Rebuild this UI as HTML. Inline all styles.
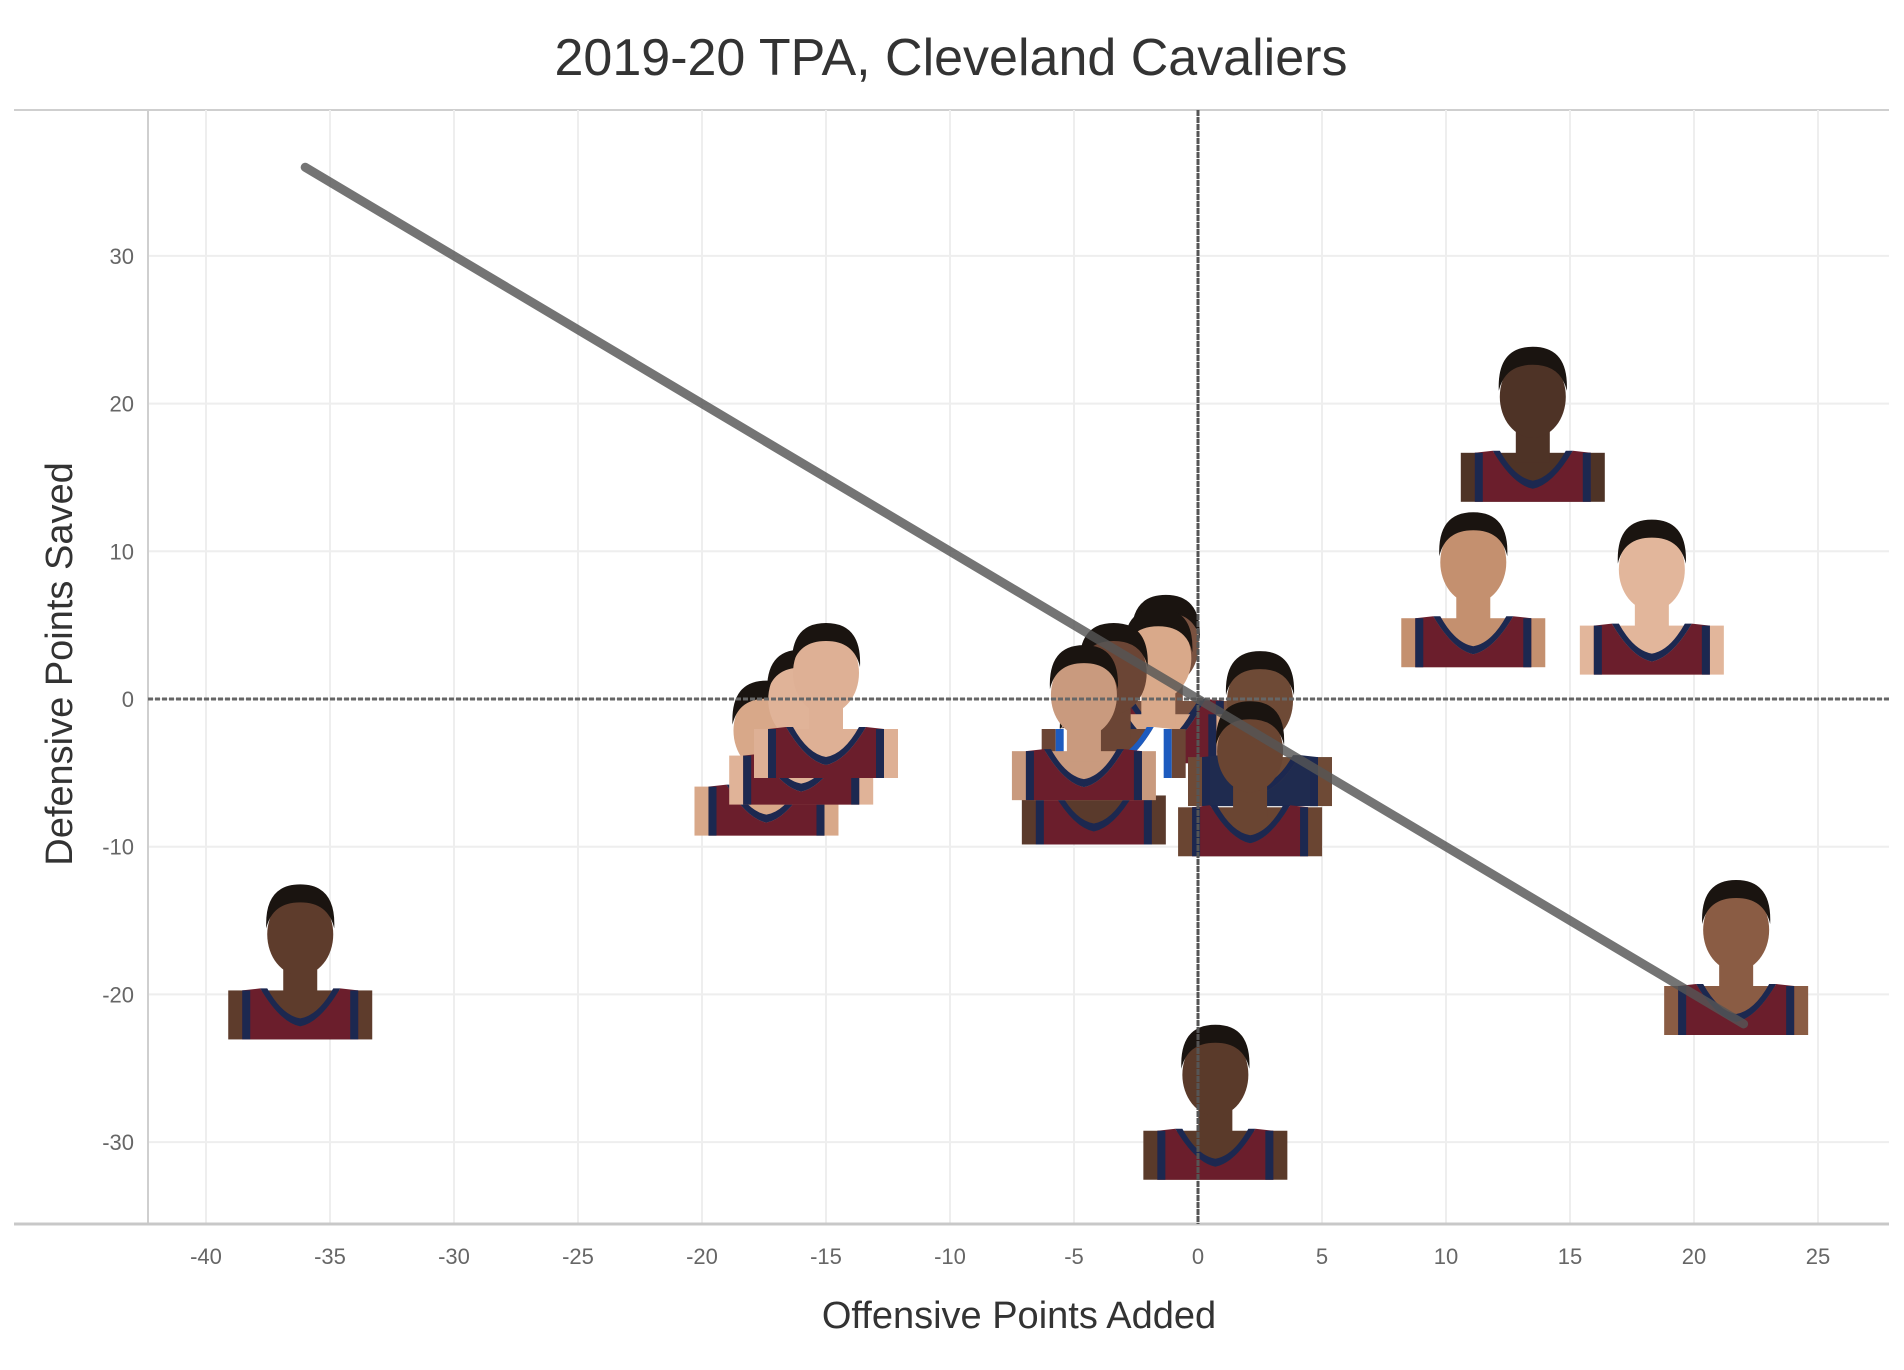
<!DOCTYPE html>
<html><head><meta charset="utf-8"><style>
html,body{margin:0;padding:0;background:#fff;}
svg{display:block;font-family:"Liberation Sans","DejaVu Sans",sans-serif;}
</style></head><body>
<svg id="chart" width="1904" height="1370" viewBox="0 0 1904 1370">
<text x="951" y="75" text-anchor="middle" font-size="52" fill="#333">2019-20 TPA, Cleveland Cavaliers</text>
<g id="grid"></g>
<g id="players"></g>
<g id="zero"></g>
<g id="trend"></g>
<g id="ticks"></g>
<text x="1019" y="1328" text-anchor="middle" font-size="38" fill="#333">Offensive Points Added</text>
<text transform="translate(72,664) rotate(-90)" text-anchor="middle" font-size="38" fill="#333">Defensive Points Saved</text>
</svg>
<script>
const xTicks=[-40,-35,-30,-25,-20,-15,-10,-5,0,5,10,15,20,25];
const yTicks=[30,20,10,0,-10,-20,-30];
const playerNames=["Dante Exum","Matthew Dellavedova","Lower Left Reserve","Ante Zizic","Kevin Porter Jr.","Cedi Osman","Alfonzo McKinnie","Kevin Porter Jr. alt","Denver Guard","Brandon Knight","Darius Garland","Collin Sexton","Jordan Clarkson","Tristan Thompson","Larry Nance Jr.","Kevin Love"];
const offense=[-1.3,-1.6,-17.4,-16,-4.2,-15,-3.4,-4.6,2.5,2.1,-36.2,0.7,21.7,13.5,11.1,18.3];
const defense=[1.9,1.0,-3.9,-1.8,-4.5,0,0,-1.5,-1.9,-5.3,-17.7,-27.2,-17.4,18.7,7.5,7.0];
const trendX=[-36,22];
const trendY=[36,-22];

const NS="http://www.w3.org/2000/svg";
const L=148,R=1889,T=110,B=1224;
const sx=v=>1198+v*24.8;
const sy=v=>699-v*14.77;
function mk(tag,attrs,parent){const e=document.createElementNS(NS,tag);for(const k in attrs)e.setAttribute(k,attrs[k]);parent.appendChild(e);return e;}
const grid=document.getElementById('grid');
let e;
e=mk('line',{x1:14,y1:T,x2:R,y2:T,stroke:'#cfcfcf','stroke-width':2},grid);


xTicks.forEach(t=>{
 e=mk('line',{x1:sx(t),y1:T,x2:sx(t),y2:B,stroke:'#eeeeee','stroke-width':2},grid);
 
 
});
yTicks.forEach(t=>{
 e=mk('line',{x1:L,y1:sy(t),x2:R,y2:sy(t),stroke:'#eeeeee','stroke-width':2},grid);
 
 
});
e=mk('line',{x1:L,y1:T,x2:L,y2:B,stroke:'#cfcfcf','stroke-width':2},grid);


e=mk('line',{x1:14,y1:B,x2:R,y2:B,stroke:'#c8c8c8','stroke-width':3},grid);



const ticks=document.getElementById('ticks');
xTicks.forEach(t=>{
 e=mk('text',{x:sx(t),y:1264,'text-anchor':'middle','font-size':22,fill:'#666'},ticks);
 e.textContent=t;
 
 
});
yTicks.forEach(t=>{
 e=mk('text',{x:134,y:sy(t)+8,'text-anchor':'end','font-size':22,fill:'#666'},ticks);
 e.textContent=t;
 
 
});

const skins=['#7a5240','#d9a98a','#d8a889','#e0b398','#5a3a2c','#deb095','#6b4535','#c99a7e','#6e4a36','#6a4532','#5e3c2c','#5a3a2a','#8a5c44','#4e3326','#c4906f','#e2b69b'];
const jerseys=['#6b1e2c','#6b1e2c','#6b1e2c','#6b1e2c','#6b1e2c','#6b1e2c','#ffffff','#6b1e2c','#1f2b4f','#6b1e2c','#6b1e2c','#6b1e2c','#6b1e2c','#6b1e2c','#6b1e2c','#6b1e2c'];
const players=document.getElementById('players');
offense.forEach((v,i)=>{
 const g=mk('g',{transform:`translate(${sx(v)},${sy(defense[i])})`},players);
 
 
 const sk=skins[i],j=jerseys[i];
 const trim=j==='#ffffff'?'#1d5bbf':'#1c2850';
 mk('rect',{x:-72,y:30,width:144,height:49,fill:sk},g);
 mk('rect',{x:-17,y:0,width:34,height:40,fill:sk},g);
 mk('path',{d:'M-58,79 L-58,30 L-40,28 Q-20,62 0,66 Q20,62 40,28 L58,30 L58,79 Z',fill:j},g);
 mk('path',{d:'M-40,28 Q-20,62 0,66 Q20,62 40,28 L33,28 Q18,55 0,58 Q-18,55 -33,28 Z',fill:trim},g);
 mk('path',{d:'M-58,79 L-58,30 L-50,30 L-50,79 Z M58,79 L58,30 L50,30 L50,79 Z',fill:trim},g);
 mk('ellipse',{cx:0,cy:-26,rx:33,ry:41,fill:sk},g);
 mk('path',{d:'M-34,-32 Q-36,-76 0,-76 Q36,-76 34,-32 Q28,-58 0,-58 Q-28,-58 -34,-32 Z',fill:'#1a1410'},g);
});

const zero=document.getElementById('zero');
e=mk('line',{x1:L,y1:sy(0),x2:R,y2:sy(0),stroke:'#666','stroke-width':3,'stroke-dasharray':'5,2'},zero);


e=mk('line',{x1:sx(0),y1:T,x2:sx(0),y2:B,stroke:'#555','stroke-width':3,'stroke-dasharray':'6,1'},zero);



const trend=document.getElementById('trend');
e=mk('line',{x1:sx(trendX[0]),y1:sy(trendY[0]),x2:sx(trendX[1]),y2:sy(trendY[1]),stroke:'#555','stroke-width':9,'stroke-linecap':'round','stroke-opacity':0.82},trend);


</script>
</body></html>
